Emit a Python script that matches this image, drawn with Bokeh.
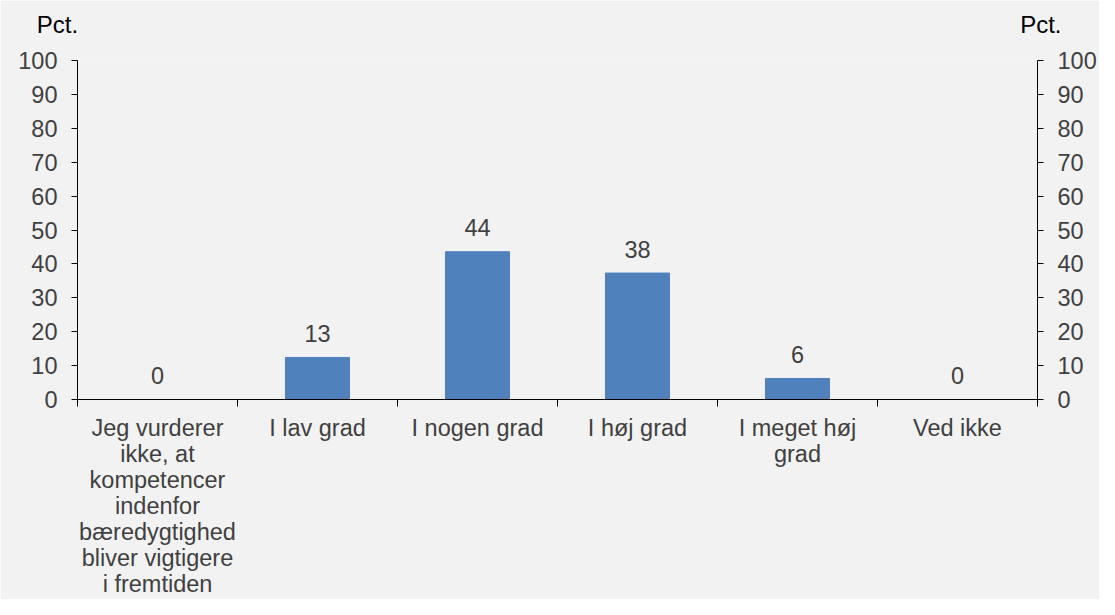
from bokeh.plotting import figure
from bokeh.models import LinearAxis, FixedTicker, Range1d, ColumnDataSource
from bokeh.core.properties import value
from bokeh.embed import file_html
from bokeh.resources import INLINE

categories = [
    "Jeg vurderer\nikke, at\nkompetencer\nindenfor\nbæredygtighed\nbliver vigtigere\ni fremtiden",
    "I lav grad",
    "I nogen grad",
    "I høj grad",
    "I meget høj\ngrad",
    "Ved ikke",
]
values = [0.0, 12.4, 43.6, 37.3, 6.2, 0.0]
labels = ["0", "13", "44", "38", "6", "0"]
yticks = [0, 10, 20, 30, 40, 50, 60, 70, 80, 90, 100]
unit_label = "Pct."

FONT = "Liberation Sans"
TXT = "#404040"
BG = "#f2f2f2"
FS = "23.5px"
XFS = "23.5px"

n = len(categories)
xs = list(range(n))
src = ColumnDataSource(dict(x=xs, top=values, lab=labels))

p = figure(width=1099, height=599, output_backend="svg", toolbar_location=None,
           x_range=Range1d(-0.5, n - 0.5), y_range=Range1d(0, 100),
           min_border_left=77, min_border_right=62, min_border_top=60, min_border_bottom=190,
           background_fill_color=BG, border_fill_color=BG, outline_line_color=None,
           y_axis_location=None)

p.vbar(x="x", top="top", width=0.4, bottom=0, source=src, color="#4F81BD")
p.text(x="x", y="top", text="lab", source=src, text_align="center", text_baseline="middle",
       y_offset=-24, text_font=value(FONT), text_font_size=FS, text_color=TXT)

p.xgrid.visible = False
p.ygrid.visible = False

xa = p.xaxis[0]
xa.ticker = FixedTicker(ticks=xs, minor_ticks=[i - 0.5 for i in range(n + 1)])
xa.major_label_overrides = {i: c for i, c in enumerate(categories)}
xa.major_tick_out = 0
xa.major_tick_in = 0
xa.minor_tick_out = 7
xa.minor_tick_in = 0
xa.minor_tick_line_color = "#000000"
xa.axis_line_color = "#000000"
xa.major_label_text_font = FONT
xa.major_label_text_font_size = XFS
xa.major_label_text_color = TXT
xa.major_label_text_line_height = 1.0
xa.major_label_standoff = 8

for loc in ("left", "right"):
    ax = LinearAxis(ticker=FixedTicker(ticks=yticks))
    ax.major_tick_out = 6
    ax.major_tick_in = 0
    ax.minor_tick_out = 0
    ax.minor_tick_in = 0
    ax.axis_line_color = "#000000"
    ax.major_tick_line_color = "#000000"
    ax.major_label_text_font = FONT
    ax.major_label_text_font_size = FS
    ax.major_label_text_color = TXT
    ax.major_label_standoff = 14
    p.add_layout(ax, loc)

# unit labels above both value axes, carried by a bare axis on top
top_ticks = [-0.4999, n - 0.5001]
ua = LinearAxis(ticker=FixedTicker(ticks=top_ticks, minor_ticks=[]))
ua.major_label_overrides = {
    top_ticks[0]: unit_label + "\u00a0" * 6,
    top_ticks[1]: "\u00a0" + unit_label,
}
ua.axis_line_color = None
ua.major_tick_line_color = None
ua.minor_tick_line_color = None
ua.major_tick_out = 0
ua.major_tick_in = 0
ua.major_label_text_font = FONT
ua.major_label_text_font_size = "24px"
ua.major_label_text_color = "#000000"
ua.major_label_standoff = 23
p.add_layout(ua, "above")

open("out.html", "w").write(file_html(p, INLINE))
